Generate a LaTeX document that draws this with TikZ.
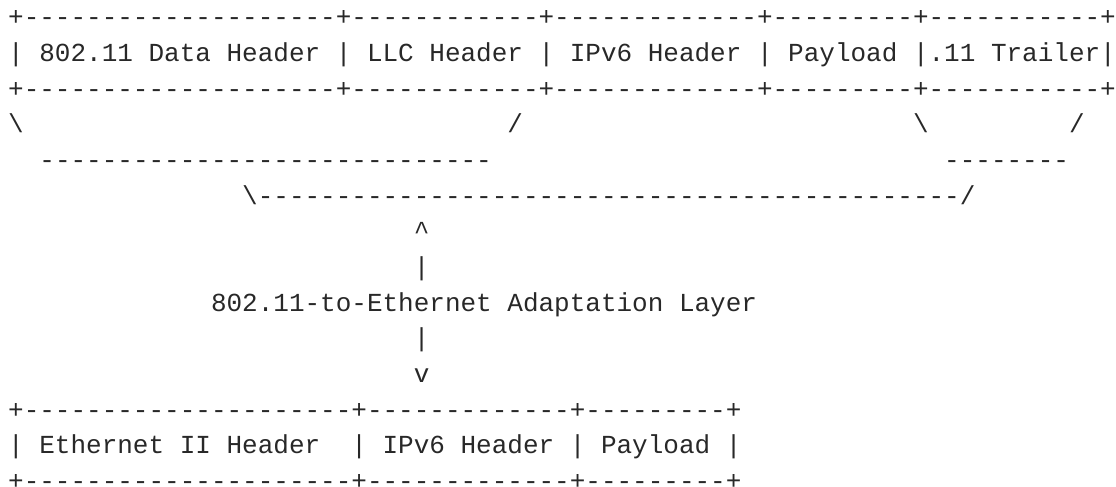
\documentclass[tikz,border=0pt]{standalone}
\usepackage{fontspec}
\newfontfamily\asciimono{Liberation Mono}
\ExplSyntaxOn
\NewDocumentCommand\dsh{m}{\prg_replicate:nn{#1}{-}}
\ExplSyntaxOff
\definecolor{ink}{RGB}{40,40,40}
\tikzset{
  row/.style={anchor=base west, inner sep=0pt, outer sep=0pt, text=ink,
    font=\asciimono\fontsize{26}{30}\selectfont},
}
% column c -> x, row k -> baseline y
\newcommand\cx[1]{\fpeval{8.2+15.6*(#1)}pt}
\newcommand\ry[1]{\fpeval{-(26.0+35.66*(#1))}pt}
\begin{document}
\begin{tikzpicture}
\useasboundingbox (0,0) rectangle (1116pt,-487pt);
% 802.11 frame
\node[row] (top0) at (\cx{0},\ry{0}) {+\dsh{20}+\dsh{12}+\dsh{13}+\dsh{9}+\dsh{11}+};
\node[row] (top1) at (\cx{0},\ry{1}) {| 802.11 Data Header | LLC Header | IPv6 Header | Payload |.11 Trailer|};
\node[row] (top2) at (\cx{0},\ry{2}) {+\dsh{20}+\dsh{12}+\dsh{13}+\dsh{9}+\dsh{11}+};
% brackets
\node[row] (b3a) at (\cx{0},\ry{3}) {\textbackslash};
\node[row] (b3b) at (\cx{32},\ry{3}) {/};
\node[row] (b3c) at (\cx{58},\ry{3}) {\textbackslash};
\node[row] (b3d) at (\cx{68},\ry{3}) {/};
\node[row] (b4a) at (\cx{2},\ry{4}) {\dsh{29}};
\node[row] (b4b) at (\cx{60},\ry{4}) {\dsh{8}};
\node[row] (b5) at (\cx{15},\ry{5}) {\textbackslash\dsh{45}/};
% adaptation arrow
\node[row] (a6) at (\cx{26},\ry{6}) {\textasciicircum};
\node[row] (a7) at (\cx{26},\ry{7}) {|};
\node[row] (a8) at (\cx{13},\ry{8}) {802.11-to-Ethernet Adaptation Layer};
\node[row] (a9) at (\cx{26},\ry{9}) {|};
\node[row] (a10) at (\cx{26},\ry{10}) {v};
% Ethernet frame
\node[row] (bot11) at (\cx{0},\ry{11}) {+\dsh{21}+\dsh{13}+\dsh{9}+};
\node[row] (bot12) at (\cx{0},\ry{12}) {| Ethernet II Header~ | IPv6 Header | Payload |};
\node[row] (bot13) at (\cx{0},\ry{13}) {+\dsh{21}+\dsh{13}+\dsh{9}+};
\end{tikzpicture}
\end{document}
